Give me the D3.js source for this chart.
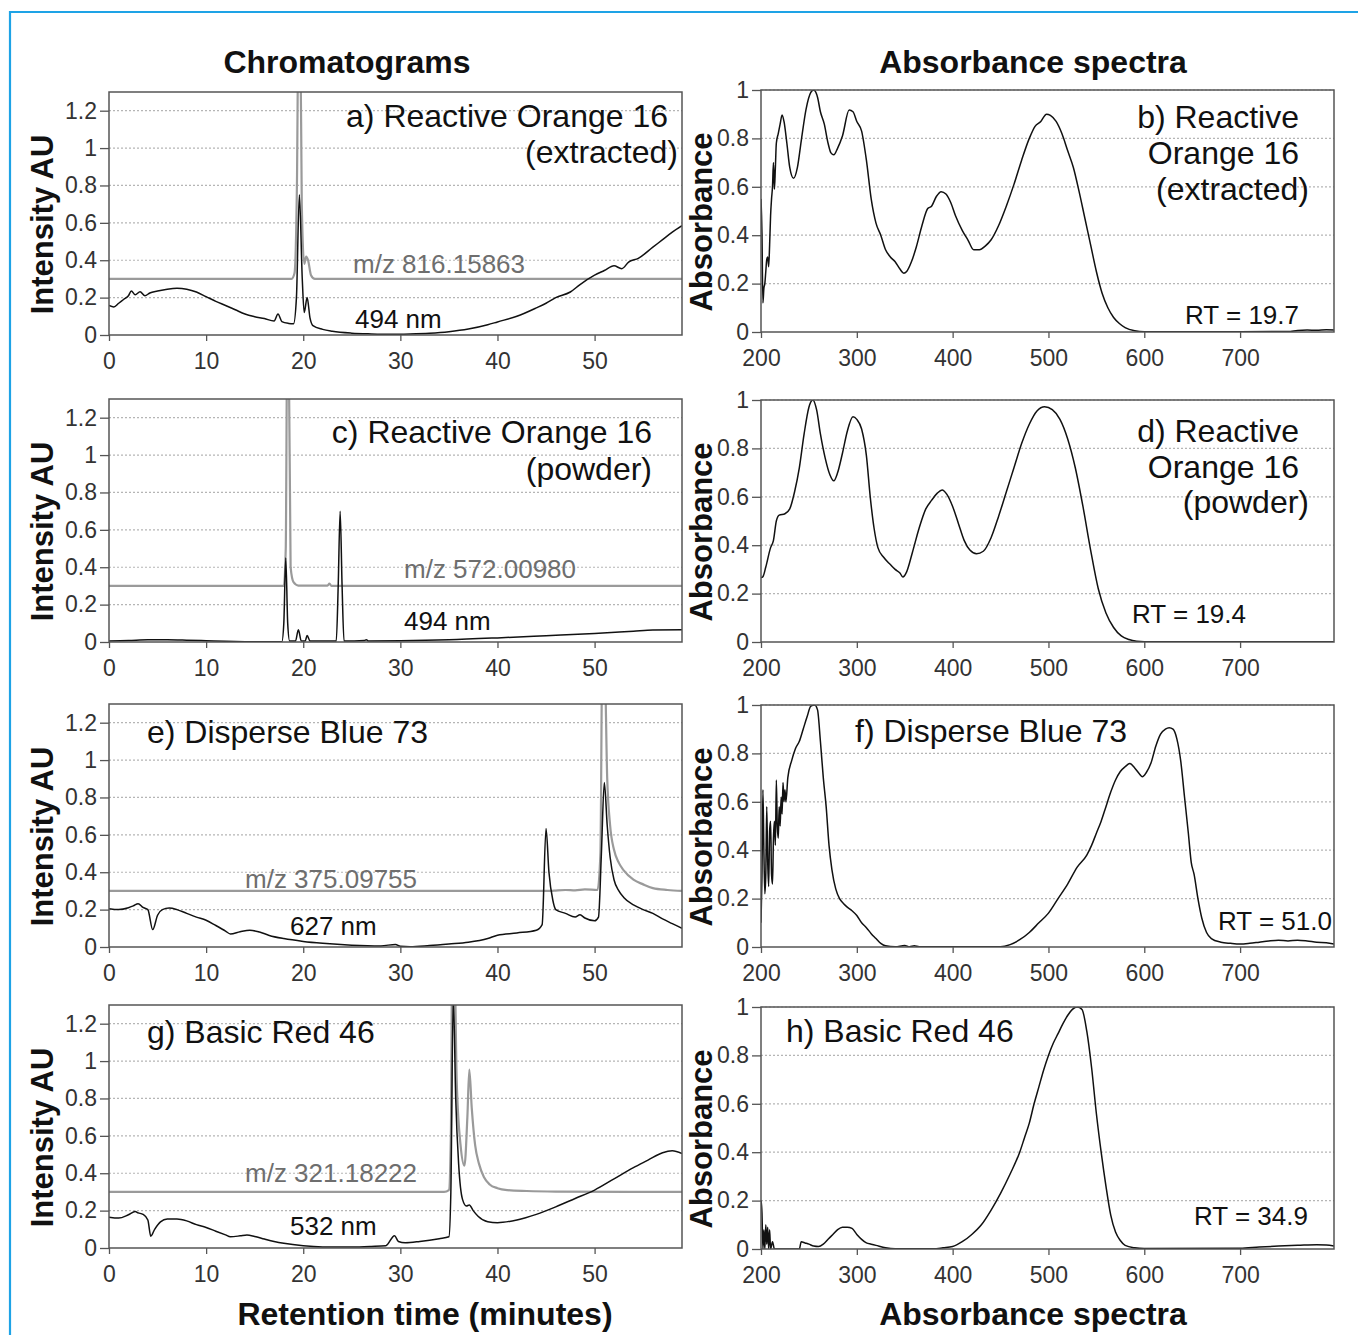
<!DOCTYPE html>
<meta charset="utf-8">
<style>
    body { margin: 0; background: #fff; }
    svg text { font-family: "Liberation Sans", Arial, sans-serif; }
    .tick text { font-size: 23px; fill: #333; }
    .tick line { stroke: #555; stroke-width: 1.3; }
    .grid line { stroke: #b5b5b5; stroke-width: 1.2; stroke-dasharray: 2,2; }
    .frame { fill: none; stroke: #555; stroke-width: 1.5; }
    .uv { fill: none; stroke: #111; stroke-width: 1.5; }
    .ms { fill: none; stroke: #9a9a9a; stroke-width: 2.2; }
    .big { font-size: 32px; fill: #111; }
    .small { font-size: 26px; fill: #111; }
    .mz { font-size: 26px; fill: #6e6e6e; }
    .title { font-size: 32px; font-weight: bold; fill: #111; }
    .ylab { font-size: 31px; font-weight: bold; fill: #111; }
</style>
<svg id="fig" width="1358" height="1335"></svg>
<script src="https://cdn.jsdelivr.net/npm/d3@7"></script>
<script>
    // ---- tick values ----
    var chromTicksX = [0, 10, 20, 30, 40, 50];
    var chromTicksY = [0, 0.2, 0.4, 0.6, 0.8, 1, 1.2];
    var specTicksX = [200, 300, 400, 500, 600, 700];
    var specTicksY = [0, 0.2, 0.4, 0.6, 0.8, 1];

    // ---- chromatograms: [time (min), intensity] ----
    var uvA = [[0,0.158],[0.5,0.15],[1,0.17],[1.5,0.19],[2,0.21],[2.3,0.235],[2.7,0.215],[3.2,0.232],[3.7,0.21],[4.2,0.225],[5,0.235],[6,0.245],[7,0.25],[8,0.245],[9,0.23],[10,0.205],[11,0.18],[12,0.158],[13,0.135],[14,0.112],[15,0.098],[16,0.088],[17,0.075],[17.4,0.112],[17.8,0.072],[18.5,0.062],[19,0.06],[19.3,0.2],[19.6,0.75],[19.9,0.3],[20.1,0.12],[20.4,0.2],[20.7,0.09],[21,0.05],[22,0.03],[23,0.02],[25,0.01],[27,0.006],[29,0.004],[31,0.006],[33,0.01],[35,0.018],[37,0.032],[39,0.055],[40,0.07],[42,0.1],[44,0.145],[45,0.17],[46,0.2],[47.5,0.23],[48.5,0.27],[50,0.32],[51,0.345],[52,0.37],[52.8,0.355],[53.5,0.39],[54.5,0.41],[56,0.47],[57,0.51],[58,0.55],[59,0.585]];
    var msA = [[0,0.3],[18.8,0.3],[19.1,0.33],[19.35,0.8],[19.5,1.6],[19.7,1.6],[19.85,0.7],[20.1,0.38],[20.3,0.42],[20.5,0.4],[20.8,0.32],[21.2,0.3],[59,0.3]];

    var uvC = [[0,0.006],[2,0.008],[4,0.012],[6,0.012],[8,0.01],[10,0.007],[12,0.004],[14,0.002],[16,0.001],[17.8,0.002],[18,0.1],[18.2,0.45],[18.4,0.1],[18.6,0.005],[19.2,0.005],[19.5,0.065],[19.8,0.005],[20.2,0.005],[20.4,0.035],[20.7,0.005],[23.4,0.005],[23.6,0.3],[23.8,0.7],[24,0.3],[24.2,0.005],[26.3,0.008],[26.5,0.012],[26.7,0.006],[30,0.007],[35,0.012],[40,0.022],[45,0.034],[50,0.046],[54,0.058],[56,0.064],[59,0.065]];
    var msC = [[0,0.3],[18,0.3],[18.2,0.5],[18.35,1.6],[18.5,1.6],[18.7,0.4],[19,0.32],[19.5,0.302],[22.5,0.302],[22.7,0.312],[22.9,0.3],[59,0.3]];

    var uvE = [[0,0.205],[1,0.2],[2,0.21],[2.5,0.22],[3,0.232],[3.5,0.212],[4,0.2],[4.5,0.093],[5,0.17],[5.5,0.2],[6.2,0.208],[7,0.2],[8,0.18],[9,0.16],[10,0.143],[11,0.115],[12,0.085],[12.5,0.07],[13.5,0.082],[14.5,0.09],[15.5,0.08],[16.5,0.062],[18,0.045],[20,0.03],[22,0.02],[25,0.01],[28,0.006],[29.5,0.014],[30,0.004],[31,0.002],[33,0.008],[35,0.016],[37,0.025],[39,0.045],[40,0.063],[42,0.075],[44,0.09],[44.6,0.12],[45,0.634],[45.3,0.4],[45.7,0.25],[46,0.2],[47,0.18],[48,0.16],[48.5,0.172],[49,0.155],[50,0.14],[50.4,0.16],[50.7,0.5],[51,0.88],[51.3,0.65],[51.6,0.48],[52,0.36],[52.5,0.3],[53,0.265],[54,0.225],[55,0.2],[56,0.18],[57,0.15],[58,0.125],[59,0.1]];
    var msE = [[0,0.3],[45.5,0.3],[46,0.302],[47,0.305],[48,0.303],[49,0.308],[50.3,0.305],[50.6,0.5],[50.8,1.6],[51,1.6],[51.3,0.9],[51.6,0.65],[52,0.52],[52.5,0.45],[53,0.41],[54,0.36],[55,0.335],[56,0.315],[57.5,0.305],[59,0.3]];

    var uvG = [[0,0.165],[1,0.16],[2,0.178],[2.7,0.195],[3,0.188],[3.5,0.18],[4,0.15],[4.3,0.063],[4.7,0.1],[5.3,0.14],[6,0.155],[7,0.155],[8,0.145],[9,0.125],[10,0.11],[11,0.09],[12,0.07],[12.5,0.06],[13.5,0.065],[14.2,0.07],[15,0.062],[16,0.048],[17,0.035],[18,0.025],[20,0.012],[22,0.006],[25,0.005],[27,0.008],[28.5,0.012],[29.4,0.066],[29.8,0.035],[30.5,0.028],[32,0.035],[34,0.05],[35,0.06],[35.2,0.3],[35.45,1.35],[35.7,0.8],[36,0.45],[36.4,0.26],[36.8,0.225],[37.1,0.23],[37.5,0.2],[38,0.17],[39,0.14],[40,0.135],[42,0.15],[44,0.18],[46,0.22],[48,0.265],[50,0.31],[52,0.37],[54,0.43],[55.5,0.47],[57,0.51],[58,0.52],[59,0.505]];
    var msG = [[0,0.3],[34.5,0.3],[35,0.31],[35.2,0.6],[35.35,1.6],[35.55,1.6],[35.8,0.9],[36.2,0.55],[36.6,0.44],[36.9,0.7],[37.1,0.955],[37.35,0.75],[37.7,0.55],[38.1,0.45],[38.6,0.38],[39.2,0.34],[40,0.32],[41,0.31],[43,0.305],[46,0.302],[59,0.3]];

    // ---- absorbance spectra: [wavelength (nm), absorbance] ----
    var specB = [[200,0.55],[201,0.41],[202,0.12],[203,0.18],[204,0.2],[205,0.25],[206,0.3],[207,0.31],[208,0.27],[209,0.36],[210,0.48],[211,0.55],[212,0.6],[213,0.7],[214,0.59],[215,0.68],[216,0.78],[218,0.82],[220,0.86],[222,0.897],[224,0.87],[227,0.78],[230,0.68],[234,0.635],[238,0.68],[242,0.79],[247,0.92],[252,0.99],[255,1],[259,0.97],[262,0.91],[266,0.86],[270,0.78],[273,0.74],[276,0.732],[280,0.76],[285,0.81],[292,0.917],[296,0.91],[300,0.87],[305,0.83],[310,0.71],[315,0.55],[320,0.45],[325,0.4],[330,0.34],[335,0.31],[340,0.29],[345,0.26],[349,0.243],[352,0.25],[357,0.29],[362,0.35],[368,0.44],[374,0.51],[378,0.52],[383,0.56],[388,0.58],[393,0.57],[398,0.535],[403,0.48],[410,0.42],[416,0.38],[422,0.34],[428,0.34],[434,0.355],[440,0.38],[448,0.44],[456,0.52],[464,0.61],[472,0.71],[480,0.8],[486,0.85],[492,0.87],[498,0.9],[502,0.895],[508,0.87],[514,0.82],[520,0.75],[526,0.68],[532,0.58],[538,0.47],[544,0.36],[550,0.25],[556,0.16],[562,0.1],[568,0.06],[574,0.035],[580,0.018],[590,0.005],[600,0.001],[700,0.001],[750,0.002],[760,0.006],[770,0.008],[780,0.007],[790,0.009],[798,0.008]];
    var specD = [[200,0.266],[202,0.27],[205,0.31],[210,0.39],[213,0.42],[216,0.5],[219,0.524],[225,0.53],[230,0.55],[235,0.62],[240,0.72],[245,0.86],[250,0.97],[254,1],[258,0.96],[262,0.86],[267,0.76],[272,0.69],[276,0.666],[280,0.7],[285,0.78],[290,0.87],[296,0.931],[300,0.92],[305,0.88],[310,0.77],[314,0.6],[318,0.47],[322,0.39],[328,0.35],[335,0.32],[340,0.3],[345,0.285],[348,0.269],[352,0.29],[358,0.37],[365,0.47],[372,0.55],[378,0.585],[384,0.615],[389,0.628],[394,0.61],[400,0.56],[406,0.49],[412,0.42],[418,0.38],[425,0.365],[432,0.375],[440,0.43],[448,0.52],[456,0.62],[464,0.72],[472,0.82],[480,0.9],[488,0.955],[496,0.972],[504,0.96],[512,0.92],[520,0.84],[528,0.72],[536,0.56],[544,0.38],[552,0.22],[560,0.12],[568,0.06],[576,0.025],[584,0.01],[592,0.003],[600,0.001],[798,0.001]];
    var specF = [[200,0.1],[201,0.29],[202,0.65],[203,0.4],[204,0.22],[205,0.3],[206,0.58],[207,0.35],[208,0.25],[209,0.48],[210,0.52],[211,0.3],[212,0.26],[213,0.45],[214,0.52],[215,0.42],[216,0.69],[217,0.5],[218,0.45],[219,0.58],[220,0.5],[221,0.62],[222,0.55],[223,0.68],[224,0.6],[225,0.65],[226,0.6],[228,0.7],[232,0.77],[236,0.82],[240,0.85],[244,0.9],[248,0.95],[252,0.995],[256,1],[259,0.98],[262,0.85],[265,0.7],[268,0.58],[271,0.42],[274,0.32],[278,0.24],[282,0.2],[286,0.18],[290,0.165],[295,0.15],[300,0.13],[305,0.1],[310,0.08],[315,0.055],[320,0.035],[325,0.015],[330,0.005],[340,0.001],[350,0.006],[355,0.001],[360,0.005],[365,0.001],[450,0.001],[460,0.01],[470,0.03],[480,0.06],[490,0.1],[500,0.14],[510,0.2],[520,0.26],[530,0.33],[540,0.38],[545,0.42],[550,0.47],[555,0.52],[560,0.58],[565,0.64],[570,0.69],[575,0.725],[580,0.745],[585,0.758],[590,0.74],[595,0.715],[598,0.703],[602,0.72],[607,0.76],[612,0.83],[617,0.88],[622,0.9],[626,0.906],[630,0.9],[634,0.86],[638,0.77],[642,0.62],[646,0.47],[649,0.35],[652,0.3],[656,0.2],[660,0.12],[665,0.06],[670,0.035],[680,0.02],[690,0.015],[700,0.012],[710,0.015],[720,0.02],[730,0.025],[740,0.028],[750,0.025],[760,0.028],[770,0.025],[780,0.02],[790,0.018],[798,0.012]];
    var specH = [[200,0.2],[201,0.15],[202,0],[203,0.08],[204,0],[205,0.1],[206,0.02],[207,0.09],[208,0],[209,0.08],[210,0],[212,0.03],[214,0],[240,0],[242,0.03],[246,0.025],[250,0.02],[255,0.012],[260,0.01],[265,0.02],[270,0.04],[275,0.06],[280,0.08],[285,0.09],[290,0.09],[295,0.085],[300,0.06],[305,0.04],[310,0.025],[315,0.02],[320,0.015],[330,0.005],[340,0.001],[380,0.001],[390,0.005],[400,0.01],[410,0.03],[420,0.06],[430,0.1],[440,0.16],[450,0.23],[460,0.31],[470,0.4],[475,0.46],[480,0.52],[485,0.6],[490,0.67],[495,0.74],[500,0.8],[505,0.85],[510,0.89],[515,0.93],[520,0.965],[525,0.99],[530,1],[535,0.99],[540,0.9],[545,0.75],[550,0.56],[555,0.4],[560,0.26],[565,0.14],[570,0.07],[575,0.035],[580,0.015],[590,0.005],[600,0.002],[700,0.003],[720,0.008],[740,0.012],[760,0.015],[780,0.018],[790,0.017],[798,0.012]];

    var svg = d3.select("#fig");
    var W = 573;

    // light blue frame of the figure
    svg.append("path")
        .attr("d", "M10,1335 V12 H1358")
        .attr("fill", "none")
        .attr("stroke", "#1ea3e6")
        .attr("stroke-width", 2.2);

    var fmt = function (d) { return d === 0 ? "0" : String(+d.toFixed(1)); };

    // one panel; labels are [text, dx, dy, anchor, class]
    function panel(p, i) {
        var H = p.h;
        var x = d3.scaleLinear().domain(p.xDomain).range([0, W]);
        var y = d3.scaleLinear().domain(p.yDomain).range([H, 0]);
        var g = svg.append("g").attr("transform", "translate(" + p.left + "," + p.top + ")");

        g.append("clipPath").attr("id", "clip" + i)
            .append("rect").attr("width", W).attr("height", H);

        g.append("g").attr("class", "grid")
            .selectAll("line")
            .data(p.yTicks.filter(function (d) { return d > 0; }))
            .enter().append("line")
            .attr("x1", 0).attr("x2", W)
            .attr("y1", function (d) { return y(d); })
            .attr("y2", function (d) { return y(d); });

        var ya = g.append("g")
            .call(d3.axisLeft(y).tickValues(p.yTicks).tickFormat(fmt).tickSize(9).tickPadding(3));
        ya.select(".domain").remove();

        var xa = g.append("g").attr("transform", "translate(0," + H + ")")
            .call(d3.axisBottom(x).tickValues(p.xTicks).tickSize(6).tickPadding(12));
        xa.select(".domain").remove();

        var line = d3.line()
            .x(function (d) { return x(d[0]); })
            .y(function (d) { return y(d[1]); })
            .curve(d3.curveMonotoneX);

        var plot = g.append("g").attr("clip-path", "url(#clip" + i + ")");
        if (p.ms) plot.append("path").datum(p.ms).attr("class", "ms").attr("d", line);
        plot.append("path").datum(p.uv).attr("class", "uv").attr("d", line);

        g.append("rect").attr("class", "frame").attr("width", W).attr("height", H);

        g.selectAll("text.note")
            .data(p.labels)
            .enter().append("text")
            .attr("class", function (d) { return "note " + d[4]; })
            .attr("x", function (d) { return d[1]; })
            .attr("y", function (d) { return d[2]; })
            .attr("text-anchor", function (d) { return d[3]; })
            .text(function (d) { return d[0]; });

        g.append("text")
            .attr("class", "ylab")
            .attr("text-anchor", "middle")
            .attr("transform", "translate(" + p.ylabX + "," + (p.h / 2 + 11) + ") rotate(-90)")
            .text(p.ylab);
    }

    var chromBase = { left: 109, h: 243, xDomain: [0, 59], yDomain: [0, 1.3], xTicks: chromTicksX, yTicks: chromTicksY, ylab: "Intensity AU", ylabX: -56 };
    var specBase = { left: 761, h: 242, xDomain: [200, 798], yDomain: [0, 1], xTicks: specTicksX, yTicks: specTicksY, ylab: "Absorbance", ylabX: -49 };

    var panels = [
        Object.assign({}, chromBase, { top: 92, uv: uvA, ms: msA, labels: [
            ["a) Reactive Orange 16", 559, 35, "end", "big"],
            ["(extracted)", 569, 71, "end", "big"],
            ["m/z 816.15863", 244, 181, "start", "mz"],
            ["494 nm", 246, 236, "start", "small"]] }),
        Object.assign({}, specBase, { top: 90, uv: specB, labels: [
            ["b) Reactive", 538, 38, "end", "big"],
            ["Orange 16", 538, 74, "end", "big"],
            ["(extracted)", 548, 110, "end", "big"],
            ["RT = 19.7", 538, 234, "end", "small"]] }),
        Object.assign({}, chromBase, { top: 399, uv: uvC, ms: msC, labels: [
            ["c) Reactive Orange 16", 543, 44, "end", "big"],
            ["(powder)", 543, 81, "end", "big"],
            ["m/z 572.00980", 295, 179, "start", "mz"],
            ["494 nm", 295, 231, "start", "small"]] }),
        Object.assign({}, specBase, { top: 400, uv: specD, labels: [
            ["d) Reactive", 538, 42, "end", "big"],
            ["Orange 16", 538, 78, "end", "big"],
            ["(powder)", 548, 113, "end", "big"],
            ["RT = 19.4", 485, 223, "end", "small"]] }),
        Object.assign({}, chromBase, { top: 704, uv: uvE, ms: msE, labels: [
            ["e) Disperse Blue 73", 38, 39, "start", "big"],
            ["m/z 375.09755", 136, 184, "start", "mz"],
            ["627 nm", 181, 231, "start", "small"]] }),
        Object.assign({}, specBase, { top: 705, uv: specF, labels: [
            ["f) Disperse Blue 73", 94, 37, "start", "big"],
            ["RT = 51.0", 457, 225, "start", "small"]] }),
        Object.assign({}, chromBase, { top: 1005, uv: uvG, ms: msG, labels: [
            ["g) Basic Red 46", 38, 38, "start", "big"],
            ["m/z 321.18222", 136, 177, "start", "mz"],
            ["532 nm", 181, 230, "start", "small"]] }),
        Object.assign({}, specBase, { top: 1007, uv: specH, labels: [
            ["h) Basic Red 46", 25, 35, "start", "big"],
            ["RT = 34.9", 433, 218, "start", "small"]] })
    ];

    panels.forEach(panel);

    // column titles
    svg.append("text").attr("class", "title").attr("x", 347).attr("y", 73).attr("text-anchor", "middle").text("Chromatograms");
    svg.append("text").attr("class", "title").attr("x", 1033).attr("y", 73).attr("text-anchor", "middle").text("Absorbance spectra");
    svg.append("text").attr("class", "title").attr("x", 425).attr("y", 1325).attr("text-anchor", "middle").text("Retention time (minutes)");
    svg.append("text").attr("class", "title").attr("x", 1033).attr("y", 1325).attr("text-anchor", "middle").text("Absorbance spectra");
</script>
